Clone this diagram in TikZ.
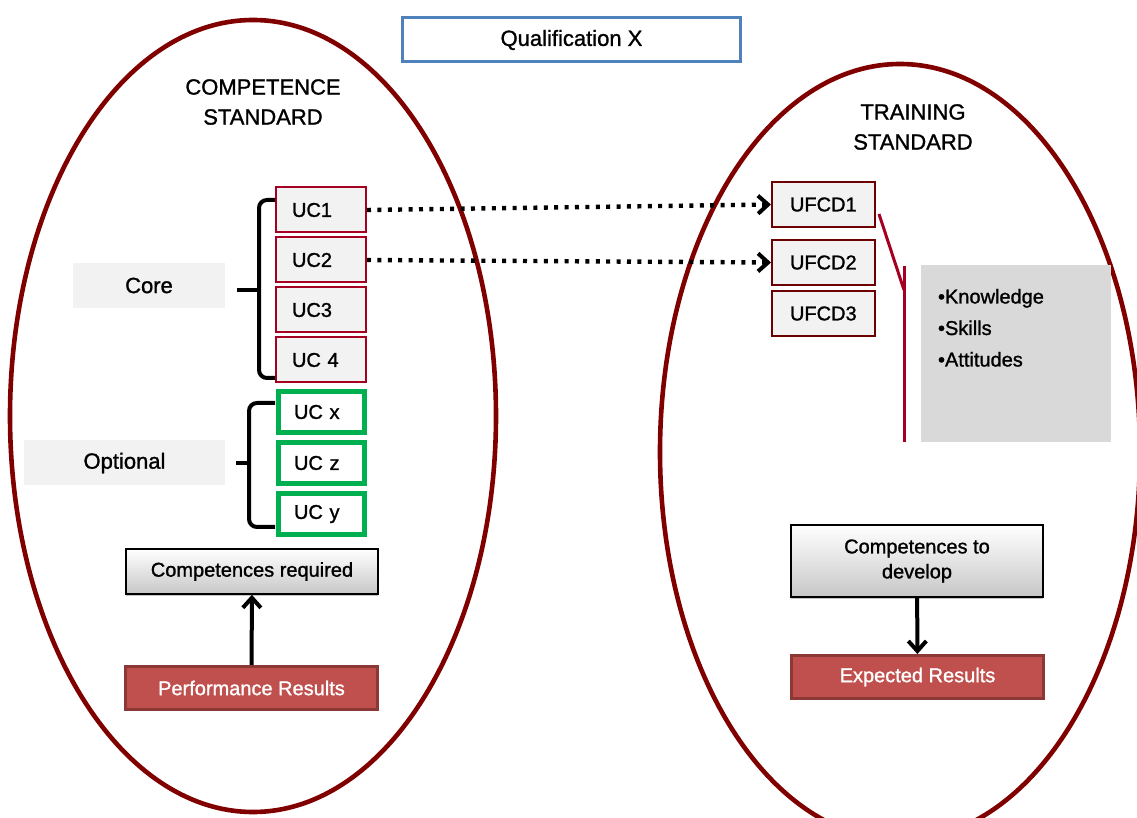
\documentclass[tikz,border=0pt]{standalone}
\usepackage{fontspec}
\setmainfont{Liberation Sans}[RawFeature={embolden=1.2}]
\usetikzlibrary{positioning, arrows.meta, shadows}
\definecolor{ovalred}{RGB}{128,0,0}
\definecolor{boxred}{RGB}{165,0,33}
\definecolor{ucgreen}{RGB}{0,176,80}
\definecolor{qblue}{RGB}{79,129,189}
\definecolor{resfill}{RGB}{192,80,77}
\definecolor{resline}{RGB}{140,56,54}
\definecolor{paleback}{RGB}{242,242,242}
\definecolor{listgray}{RGB}{217,217,217}
\tikzset{
  oval/.style={draw=ovalred, line width=2.3pt},
  uc/.style={draw=boxred, line width=1pt, fill=paleback, inner sep=0pt, inner xsep=8pt,
    text width=29pt, align=left, minimum height=22.5pt, font=\fontsize{10}{12}\selectfont},
  ucopt/.style={draw=ucgreen, line width=2.5pt, fill=white, inner sep=0pt, inner xsep=8pt,
    text width=27pt, align=left, minimum height=20.5pt, font=\fontsize{10}{12}\selectfont},
  ufcd/.style={draw=ovalred!85!black, line width=1pt, fill=paleback, inner sep=0pt, inner xsep=9pt,
    text width=33.5pt, align=left, minimum height=22.5pt, font=\fontsize{10}{12}\selectfont},
  tag/.style={fill=paleback, inner sep=0pt, minimum height=22.5pt, font=\fontsize{11}{13}\selectfont},
  comp/.style={draw=black, line width=0.8pt, top color=white, bottom color=black!22, inner sep=0pt,
    minimum width=126pt, align=center, font=\fontsize{10}{12.5}\selectfont,
    drop shadow={shadow xshift=0pt, shadow yshift=-1.2pt, fill=black!45}},
  result/.style={draw=resline, line width=1.5pt, fill=resfill, text=white, inner sep=0pt,
    minimum width=126pt, minimum height=21.5pt, font=\fontsize{10}{12}\selectfont},
  brace/.style={line width=2pt, rounded corners=4pt},
  dotarrow/.style={line width=2.2pt, dash pattern=on 2pt off 3.2pt, -{Straight Barb[length=5pt,width=9pt,line width=2pt]}},
  bigarrow/.style={line width=2pt, -{Straight Barb[length=5pt,width=9pt,line width=2pt]}},
}

\begin{document}
\begin{tikzpicture}[x=0.5pt, y=-0.5pt]
\useasboundingbox (0,0) rectangle (1137,818);

% the two standards
\draw[oval] (253,416) ellipse [x radius=243, y radius=396];
\draw[oval] (900,452) ellipse [x radius=240, y radius=388];

\node[draw=qblue, line width=1.5pt, fill=white, minimum width=169pt, minimum height=22pt,
  font=\fontsize{11}{13}\selectfont] (qual) at (571.5,40) {Qualification X};

\node[align=center, font=\fontsize{11}{15}\selectfont] (cstd) at (263,102) {COMPETENCE\\STANDARD};
\node[align=center, font=\fontsize{11}{15}\selectfont] (tstd) at (913,127) {TRAINING\\STANDARD};

% units of competence
\node[uc] (uc1) at (321,210) {UC1};
\node[uc, below=1.5pt of uc1] (uc2) {UC2};
\node[uc, below=1.5pt of uc2] (uc3) {UC3};
\node[uc, below=1.5pt of uc3] (uc4) {UC 4};
\node[ucopt] (ucx) at (321,412) {UC x};
\node[ucopt, below=2.5pt of ucx] (ucz) {UC z};
\node[ucopt, below=2.5pt of ucz] (ucy) {UC y};

\node[tag, minimum width=76pt] (core) at (149,285.5) {Core};
\node[tag, minimum width=100.5pt] (opt) at (124.5,463) {Optional};

\draw[brace] (275,200) -| (259,378) -- (275,378);
\draw[brace] (259,290) -- (237,290);
\draw[brace] (275,403) -| (249,527) -- (275,527);
\draw[brace] (249,463) -- (236,463);

% training units
\node[ufcd] (ufcd1) at (823.5,204.5) {UFCD1};
\node[ufcd, below=5.5pt of ufcd1] (ufcd2) {UFCD2};
\node[ufcd, below=2pt of ufcd2] (ufcd3) {UFCD3};

\draw[dotarrow] (uc1.east) -- (ufcd1.west);
\draw[dotarrow] (uc2.east) -- (ufcd2.west);

\node[fill=listgray, minimum width=95pt, minimum height=88.5pt, inner sep=0pt] (kbox) at (1016,353.5) {};
\node[below right=12pt and 8.5pt of kbox.north west, align=left, inner sep=0pt,
  font=\fontsize{10}{15.75}\selectfont] (klist) {\textbullet Knowledge\\\textbullet Skills\\\textbullet Attitudes};
\draw[boxred, line width=1.5pt] (879,214) -- (904,290);
\draw[boxred, line width=1.5pt] (904,266) -- (904,442);

% competences and results
\node[comp, minimum height=22.5pt] (creq) at (252,571.5) {Competences required};
\node[result] (perf) at (251.5,688) {Performance Results};
\draw[bigarrow] (perf) -- (creq);

\node[comp, minimum height=36pt] (cdev) at (917,561) {Competences to\\develop};
\node[result] (expr) at (917.5,677) {Expected Results};
\draw[bigarrow] (cdev) -- (expr);
\end{tikzpicture}
\end{document}
